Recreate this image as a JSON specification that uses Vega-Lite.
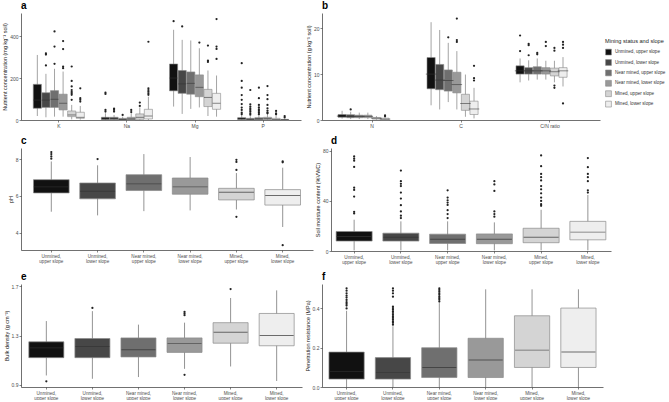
{
"$schema":"https://vega.github.io/schema/vega-lite/v6.json",
"background":"white",
"padding":{"left":2,"top":1,"right":0,"bottom":0},
"config":{"font":"Liberation Sans","view":{"stroke":null},
"axis":{"labelFontSize":5,"titleFontSize":5.5,"titleFontWeight":"normal","labelColor":"#4d4d4d","titleColor":"#222","domainColor":"#333","tickColor":"#333","tickSize":2,"labelPadding":1,"titlePadding":2,"grid":false,"domainWidth":0.7,"tickWidth":0.6,"labelLineHeight":5,"labelOverlap":false,"labelFlush":false},
"axisX":{"labelFontSize":4.6},
"title":{"fontSize":10,"fontWeight":"bold","anchor":"start","frame":"group","offset":2,"color":"#000"}},
"resolve":{"scale":{"fill":"independent"},"legend":{"fill":"independent"}},
"datasets":{
"abox":[
{"nutrient":"K","group":"Unmined, upper slope","lower":19,"q1":56,"median":95,"q3":170,"upper":310},
{"nutrient":"K","group":"Unmined, lower slope","lower":13,"q1":60,"median":95,"q3":130,"upper":220},
{"nutrient":"K","group":"Near mined, upper slope","lower":16,"q1":60,"median":99,"q3":140,"upper":244},
{"nutrient":"K","group":"Near mined, lower slope","lower":16,"q1":48,"median":80,"q3":123,"upper":231},
{"nutrient":"K","group":"Mined, upper slope","lower":3,"q1":16,"median":24,"q3":43,"upper":72},
{"nutrient":"K","group":"Mined, lower slope","lower":2,"q1":8,"median":13,"q3":37,"upper":67},
{"nutrient":"Na","group":"Unmined, upper slope","lower":0,"q1":2,"median":6,"q3":13,"upper":32},
{"nutrient":"Na","group":"Unmined, lower slope","lower":0,"q1":2,"median":6,"q3":13,"upper":24},
{"nutrient":"Na","group":"Near mined, upper slope","lower":0,"q1":0,"median":3,"q3":8,"upper":16},
{"nutrient":"Na","group":"Near mined, lower slope","lower":0,"q1":0,"median":5,"q3":13,"upper":32},
{"nutrient":"Na","group":"Mined, upper slope","lower":0,"q1":3,"median":13,"q3":29,"upper":60},
{"nutrient":"Na","group":"Mined, lower slope","lower":0,"q1":5,"median":19,"q3":51,"upper":111},
{"nutrient":"Mg","group":"Unmined, upper slope","lower":64,"q1":139,"median":200,"q3":267,"upper":430},
{"nutrient":"Mg","group":"Unmined, lower slope","lower":29,"q1":127,"median":172,"q3":236,"upper":382},
{"nutrient":"Mg","group":"Near mined, upper slope","lower":53,"q1":123,"median":175,"q3":229,"upper":379},
{"nutrient":"Mg","group":"Near mined, lower slope","lower":60,"q1":111,"median":156,"q3":215,"upper":342},
{"nutrient":"Mg","group":"Mined, upper slope","lower":19,"q1":64,"median":108,"q3":146,"upper":236},
{"nutrient":"Mg","group":"Mined, lower slope","lower":16,"q1":51,"median":80,"q3":127,"upper":212},
{"nutrient":"P","group":"Unmined, upper slope","lower":0,"q1":2,"median":6,"q3":11,"upper":24},
{"nutrient":"P","group":"Unmined, lower slope","lower":0,"q1":1,"median":3,"q3":8,"upper":18},
{"nutrient":"P","group":"Near mined, upper slope","lower":0,"q1":1,"median":5,"q3":11,"upper":24},
{"nutrient":"P","group":"Near mined, lower slope","lower":0,"q1":2,"median":6,"q3":13,"upper":28},
{"nutrient":"P","group":"Mined, upper slope","lower":0,"q1":1,"median":3,"q3":8,"upper":24},
{"nutrient":"P","group":"Mined, lower slope","lower":0,"q1":0.5,"median":2,"q3":3,"upper":6}
],
"aout":[
{"nutrient":"K","group":"Unmined, lower slope","value":318},{"nutrient":"K","group":"Unmined, lower slope","value":312},{"nutrient":"K","group":"Unmined, lower slope","value":260},
{"nutrient":"K","group":"Near mined, upper slope","value":422},{"nutrient":"K","group":"Near mined, upper slope","value":350},{"nutrient":"K","group":"Near mined, upper slope","value":268},
{"nutrient":"K","group":"Near mined, lower slope","value":376},{"nutrient":"K","group":"Near mined, lower slope","value":338},{"nutrient":"K","group":"Near mined, lower slope","value":255},{"nutrient":"K","group":"Near mined, lower slope","value":247},
{"nutrient":"K","group":"Mined, upper slope","value":255},{"nutrient":"K","group":"Mined, upper slope","value":186},{"nutrient":"K","group":"Mined, upper slope","value":160},{"nutrient":"K","group":"Mined, upper slope","value":143},{"nutrient":"K","group":"Mined, upper slope","value":134},{"nutrient":"K","group":"Mined, upper slope","value":127},{"nutrient":"K","group":"Mined, upper slope","value":120},{"nutrient":"K","group":"Mined, upper slope","value":96},
{"nutrient":"K","group":"Mined, lower slope","value":151},{"nutrient":"K","group":"Mined, lower slope","value":104},{"nutrient":"K","group":"Mined, lower slope","value":96},{"nutrient":"K","group":"Mined, lower slope","value":88},
{"nutrient":"Na","group":"Unmined, upper slope","value":131},{"nutrient":"Na","group":"Unmined, upper slope","value":124},{"nutrient":"Na","group":"Unmined, upper slope","value":48},{"nutrient":"Na","group":"Unmined, upper slope","value":40},
{"nutrient":"Na","group":"Unmined, lower slope","value":54},{"nutrient":"Na","group":"Unmined, lower slope","value":48},{"nutrient":"Na","group":"Unmined, lower slope","value":40},
{"nutrient":"Na","group":"Near mined, upper slope","value":24},
{"nutrient":"Na","group":"Near mined, lower slope","value":48},{"nutrient":"Na","group":"Near mined, lower slope","value":38},
{"nutrient":"Na","group":"Mined, upper slope","value":83},{"nutrient":"Na","group":"Mined, upper slope","value":67},
{"nutrient":"Na","group":"Mined, lower slope","value":373},{"nutrient":"Na","group":"Mined, lower slope","value":151},{"nutrient":"Na","group":"Mined, lower slope","value":143},{"nutrient":"Na","group":"Mined, lower slope","value":135},{"nutrient":"Na","group":"Mined, lower slope","value":127},{"nutrient":"Na","group":"Mined, lower slope","value":120},
{"nutrient":"Mg","group":"Unmined, upper slope","value":471},
{"nutrient":"Mg","group":"Unmined, lower slope","value":446},
{"nutrient":"Mg","group":"Near mined, lower slope","value":369},
{"nutrient":"Mg","group":"Mined, upper slope","value":355},{"nutrient":"Mg","group":"Mined, upper slope","value":283},{"nutrient":"Mg","group":"Mined, upper slope","value":277},
{"nutrient":"Mg","group":"Mined, lower slope","value":481},{"nutrient":"Mg","group":"Mined, lower slope","value":350},{"nutrient":"Mg","group":"Mined, lower slope","value":339},{"nutrient":"Mg","group":"Mined, lower slope","value":291},
{"nutrient":"P","group":"Unmined, upper slope","value":271},{"nutrient":"P","group":"Unmined, upper slope","value":186},{"nutrient":"P","group":"Unmined, upper slope","value":154},{"nutrient":"P","group":"Unmined, upper slope","value":119},{"nutrient":"P","group":"Unmined, upper slope","value":96},{"nutrient":"P","group":"Unmined, upper slope","value":76},{"nutrient":"P","group":"Unmined, upper slope","value":59},{"nutrient":"P","group":"Unmined, upper slope","value":48},{"nutrient":"P","group":"Unmined, upper slope","value":35},{"nutrient":"P","group":"Unmined, upper slope","value":28},
{"nutrient":"P","group":"Unmined, lower slope","value":143},{"nutrient":"P","group":"Unmined, lower slope","value":75},{"nutrient":"P","group":"Unmined, lower slope","value":64},{"nutrient":"P","group":"Unmined, lower slope","value":56},{"nutrient":"P","group":"Unmined, lower slope","value":48},{"nutrient":"P","group":"Unmined, lower slope","value":40},{"nutrient":"P","group":"Unmined, lower slope","value":32},{"nutrient":"P","group":"Unmined, lower slope","value":25},
{"nutrient":"P","group":"Near mined, upper slope","value":154},{"nutrient":"P","group":"Near mined, upper slope","value":104},{"nutrient":"P","group":"Near mined, upper slope","value":72},{"nutrient":"P","group":"Near mined, upper slope","value":60},{"nutrient":"P","group":"Near mined, upper slope","value":51},{"nutrient":"P","group":"Near mined, upper slope","value":43},{"nutrient":"P","group":"Near mined, upper slope","value":35},{"nutrient":"P","group":"Near mined, upper slope","value":28},
{"nutrient":"P","group":"Near mined, lower slope","value":162},{"nutrient":"P","group":"Near mined, lower slope","value":119},{"nutrient":"P","group":"Near mined, lower slope","value":99},{"nutrient":"P","group":"Near mined, lower slope","value":72},{"nutrient":"P","group":"Near mined, lower slope","value":56},{"nutrient":"P","group":"Near mined, lower slope","value":45},{"nutrient":"P","group":"Near mined, lower slope","value":36},{"nutrient":"P","group":"Near mined, lower slope","value":32},
{"nutrient":"P","group":"Mined, upper slope","value":43},{"nutrient":"P","group":"Mined, upper slope","value":32},{"nutrient":"P","group":"Mined, upper slope","value":28},
{"nutrient":"P","group":"Mined, lower slope","value":19},{"nutrient":"P","group":"Mined, lower slope","value":12}
],
"bbox":[
{"nutrient":"N","group":"Unmined, upper slope","lower":0.3,"q1":0.6,"median":0.85,"q3":1.2,"upper":2.0},
{"nutrient":"N","group":"Unmined, lower slope","lower":0.2,"q1":0.5,"median":0.8,"q3":1.15,"upper":1.8},
{"nutrient":"N","group":"Near mined, upper slope","lower":0.2,"q1":0.5,"median":0.8,"q3":1.05,"upper":1.6},
{"nutrient":"N","group":"Near mined, lower slope","lower":0.2,"q1":0.5,"median":0.8,"q3":1.05,"upper":1.6},
{"nutrient":"N","group":"Mined, upper slope","lower":0.05,"q1":0.2,"median":0.4,"q3":0.55,"upper":0.85},
{"nutrient":"N","group":"Mined, lower slope","lower":0,"q1":0.05,"median":0.2,"q3":0.4,"upper":0.55},
{"nutrient":"C","group":"Unmined, upper slope","lower":3.2,"q1":6.8,"median":10.0,"q3":13.6,"upper":21.3},
{"nutrient":"C","group":"Unmined, lower slope","lower":2.3,"q1":6.6,"median":8.7,"q3":12.1,"upper":19.6},
{"nutrient":"C","group":"Near mined, upper slope","lower":3.9,"q1":6.3,"median":8.6,"q3":10.9,"upper":16.8},
{"nutrient":"C","group":"Near mined, lower slope","lower":2.3,"q1":5.9,"median":7.7,"q3":10.4,"upper":15.0},
{"nutrient":"C","group":"Mined, upper slope","lower":0.7,"q1":2.1,"median":3.6,"q3":5.6,"upper":9.9},
{"nutrient":"C","group":"Mined, lower slope","lower":0.35,"q1":1.2,"median":2.4,"q3":4.1,"upper":7.0},
{"nutrient":"C/N ratio","group":"Unmined, upper slope","lower":8.2,"q1":10.0,"median":10.7,"q3":11.8,"upper":13.4},
{"nutrient":"C/N ratio","group":"Unmined, lower slope","lower":8.6,"q1":10.0,"median":10.7,"q3":11.4,"upper":13.0},
{"nutrient":"C/N ratio","group":"Near mined, upper slope","lower":8.8,"q1":10.0,"median":10.7,"q3":11.6,"upper":13.4},
{"nutrient":"C/N ratio","group":"Near mined, lower slope","lower":8.8,"q1":10.0,"median":10.7,"q3":11.4,"upper":12.9},
{"nutrient":"C/N ratio","group":"Mined, upper slope","lower":8.2,"q1":9.6,"median":10.5,"q3":11.3,"upper":12.9},
{"nutrient":"C/N ratio","group":"Mined, lower slope","lower":7.3,"q1":9.3,"median":10.7,"q3":11.4,"upper":13.7}
],
"bout":[
{"nutrient":"N","group":"Unmined, lower slope","value":2.3},
{"nutrient":"N","group":"Mined, lower slope","value":1.0},{"nutrient":"N","group":"Mined, lower slope","value":0.8},
{"nutrient":"C","group":"Near mined, upper slope","value":18.0},
{"nutrient":"C","group":"Near mined, lower slope","value":22.1},{"nutrient":"C","group":"Near mined, lower slope","value":17.4},{"nutrient":"C","group":"Near mined, lower slope","value":17.0},
{"nutrient":"C","group":"Mined, lower slope","value":11.8},{"nutrient":"C","group":"Mined, lower slope","value":9.1},{"nutrient":"C","group":"Mined, lower slope","value":8.6},
{"nutrient":"C/N ratio","group":"Unmined, upper slope","value":18.4},{"nutrient":"C/N ratio","group":"Unmined, upper slope","value":15.0},
{"nutrient":"C/N ratio","group":"Unmined, lower slope","value":16.6},{"nutrient":"C/N ratio","group":"Unmined, lower slope","value":16.3},{"nutrient":"C/N ratio","group":"Unmined, lower slope","value":14.1},
{"nutrient":"C/N ratio","group":"Near mined, upper slope","value":14.6},{"nutrient":"C/N ratio","group":"Near mined, upper slope","value":14.3},
{"nutrient":"C/N ratio","group":"Near mined, lower slope","value":17.0},{"nutrient":"C/N ratio","group":"Near mined, lower slope","value":16.1},
{"nutrient":"C/N ratio","group":"Mined, upper slope","value":15.7},{"nutrient":"C/N ratio","group":"Mined, upper slope","value":15.1},{"nutrient":"C/N ratio","group":"Mined, upper slope","value":7.5},{"nutrient":"C/N ratio","group":"Mined, upper slope","value":7.0},
{"nutrient":"C/N ratio","group":"Mined, lower slope","value":17.0},{"nutrient":"C/N ratio","group":"Mined, lower slope","value":16.4},{"nutrient":"C/N ratio","group":"Mined, lower slope","value":15.7},{"nutrient":"C/N ratio","group":"Mined, lower slope","value":3.6}
],
"sbox":[
{"var":"pH","group":"Unmined, upper slope","lower":5.14,"q1":6.16,"median":6.49,"q3":6.88,"upper":7.87},
{"var":"pH","group":"Unmined, lower slope","lower":4.94,"q1":5.84,"median":6.25,"q3":6.70,"upper":7.66},
{"var":"pH","group":"Near mined, upper slope","lower":5.17,"q1":6.29,"median":6.65,"q3":7.15,"upper":8.27},
{"var":"pH","group":"Near mined, lower slope","lower":5.21,"q1":6.09,"median":6.49,"q3":6.97,"upper":8.11},
{"var":"pH","group":"Mined, upper slope","lower":5.26,"q1":5.78,"median":6.20,"q3":6.41,"upper":7.24},
{"var":"pH","group":"Mined, lower slope","lower":4.31,"q1":5.50,"median":6.02,"q3":6.34,"upper":7.53},
{"var":"SMC","group":"Unmined, upper slope","lower":0.5,"q1":7.9,"median":11.5,"q3":15.5,"upper":24.9},
{"var":"SMC","group":"Unmined, lower slope","lower":0.5,"q1":7.9,"median":11.0,"q3":14.2,"upper":23.6},
{"var":"SMC","group":"Near mined, upper slope","lower":0.5,"q1":6.0,"median":9.4,"q3":13.4,"upper":23.6},
{"var":"SMC","group":"Near mined, lower slope","lower":0.5,"q1":5.8,"median":9.4,"q3":13.6,"upper":22.8},
{"var":"SMC","group":"Mined, upper slope","lower":0.5,"q1":6.6,"median":11.0,"q3":18.1,"upper":32.8},
{"var":"SMC","group":"Mined, lower slope","lower":0.5,"q1":8.9,"median":15.0,"q3":23.6,"upper":44.6},
{"var":"BD","group":"Unmined, upper slope","lower":0.975,"q1":1.12,"median":1.2,"q3":1.249,"upper":1.418},
{"var":"BD","group":"Unmined, lower slope","lower":0.948,"q1":1.12,"median":1.211,"q3":1.276,"upper":1.499},
{"var":"BD","group":"Near mined, upper slope","lower":0.962,"q1":1.126,"median":1.185,"q3":1.281,"upper":1.389},
{"var":"BD","group":"Near mined, lower slope","lower":1.029,"q1":1.163,"median":1.236,"q3":1.281,"upper":1.405},
{"var":"BD","group":"Mined, upper slope","lower":1.048,"q1":1.238,"median":1.327,"q3":1.405,"upper":1.606},
{"var":"BD","group":"Mined, lower slope","lower":0.93,"q1":1.217,"median":1.3,"q3":1.48,"upper":1.668},
{"var":"PR","group":"Unmined, upper slope","lower":0,"q1":0.04,"median":0.079,"q3":0.177,"upper":0.386},
{"var":"PR","group":"Unmined, lower slope","lower":0,"q1":0.04,"median":0.074,"q3":0.149,"upper":0.308},
{"var":"PR","group":"Near mined, upper slope","lower":0,"q1":0.048,"median":0.099,"q3":0.199,"upper":0.425},
{"var":"PR","group":"Near mined, lower slope","lower":0,"q1":0.048,"median":0.137,"q3":0.247,"upper":0.495},
{"var":"PR","group":"Mined, upper slope","lower":0,"q1":0.099,"median":0.187,"q3":0.361,"upper":0.495},
{"var":"PR","group":"Mined, lower slope","lower":0,"q1":0.099,"median":0.177,"q3":0.4,"upper":0.495}
],
"sout":[
{"var":"pH","group":"Unmined, upper slope","value":8.38},{"var":"pH","group":"Unmined, upper slope","value":8.27},{"var":"pH","group":"Unmined, upper slope","value":8.14},{"var":"pH","group":"Unmined, upper slope","value":8.02},
{"var":"pH","group":"Unmined, lower slope","value":8.0},
{"var":"pH","group":"Mined, upper slope","value":7.96},{"var":"pH","group":"Mined, upper slope","value":7.84},{"var":"pH","group":"Mined, upper slope","value":7.41},{"var":"pH","group":"Mined, upper slope","value":4.86},
{"var":"pH","group":"Mined, lower slope","value":7.87},{"var":"pH","group":"Mined, lower slope","value":7.82},{"var":"pH","group":"Mined, lower slope","value":3.32},
{"var":"SMC","group":"Unmined, upper slope","value":75.3},{"var":"SMC","group":"Unmined, upper slope","value":73.5},{"var":"SMC","group":"Unmined, upper slope","value":71.9},{"var":"SMC","group":"Unmined, upper slope","value":66.9},{"var":"SMC","group":"Unmined, upper slope","value":50.4},{"var":"SMC","group":"Unmined, upper slope","value":48.6},{"var":"SMC","group":"Unmined, upper slope","value":43.3},{"var":"SMC","group":"Unmined, upper slope","value":31.2},{"var":"SMC","group":"Unmined, upper slope","value":29.9},
{"var":"SMC","group":"Unmined, lower slope","value":64},{"var":"SMC","group":"Unmined, lower slope","value":55.6},{"var":"SMC","group":"Unmined, lower slope","value":53.5},{"var":"SMC","group":"Unmined, lower slope","value":51.7},{"var":"SMC","group":"Unmined, lower slope","value":46.5},{"var":"SMC","group":"Unmined, lower slope","value":41.7},{"var":"SMC","group":"Unmined, lower slope","value":36.5},{"var":"SMC","group":"Unmined, lower slope","value":31.5},{"var":"SMC","group":"Unmined, lower slope","value":28.1},{"var":"SMC","group":"Unmined, lower slope","value":26.2},
{"var":"SMC","group":"Near mined, upper slope","value":48.3},{"var":"SMC","group":"Near mined, upper slope","value":42.5},{"var":"SMC","group":"Near mined, upper slope","value":40.4},{"var":"SMC","group":"Near mined, upper slope","value":38.6},{"var":"SMC","group":"Near mined, upper slope","value":36.7},{"var":"SMC","group":"Near mined, upper slope","value":32.5},{"var":"SMC","group":"Near mined, upper slope","value":29.4},{"var":"SMC","group":"Near mined, upper slope","value":26.2},
{"var":"SMC","group":"Near mined, lower slope","value":55.6},{"var":"SMC","group":"Near mined, lower slope","value":53},{"var":"SMC","group":"Near mined, lower slope","value":47.8},{"var":"SMC","group":"Near mined, lower slope","value":31.5},{"var":"SMC","group":"Near mined, lower slope","value":29.4},{"var":"SMC","group":"Near mined, lower slope","value":27.3},
{"var":"SMC","group":"Mined, upper slope","value":76.1},{"var":"SMC","group":"Mined, upper slope","value":67.5},{"var":"SMC","group":"Mined, upper slope","value":61.4},{"var":"SMC","group":"Mined, upper slope","value":58.8},{"var":"SMC","group":"Mined, upper slope","value":56.2},{"var":"SMC","group":"Mined, upper slope","value":51.7},{"var":"SMC","group":"Mined, upper slope","value":49.1},{"var":"SMC","group":"Mined, upper slope","value":45.9},{"var":"SMC","group":"Mined, upper slope","value":42.5},{"var":"SMC","group":"Mined, upper slope","value":39.9},{"var":"SMC","group":"Mined, upper slope","value":37.3},{"var":"SMC","group":"Mined, upper slope","value":36},
{"var":"SMC","group":"Mined, lower slope","value":74},{"var":"SMC","group":"Mined, lower slope","value":66.7},{"var":"SMC","group":"Mined, lower slope","value":61.4},{"var":"SMC","group":"Mined, lower slope","value":58.8},{"var":"SMC","group":"Mined, lower slope","value":55.6},{"var":"SMC","group":"Mined, lower slope","value":48.3},{"var":"SMC","group":"Mined, lower slope","value":46.5},
{"var":"BD","group":"Unmined, upper slope","value":0.927},
{"var":"BD","group":"Unmined, lower slope","value":1.525},
{"var":"BD","group":"Near mined, lower slope","value":1.493},{"var":"BD","group":"Near mined, lower slope","value":1.48},{"var":"BD","group":"Near mined, lower slope","value":1.466},{"var":"BD","group":"Near mined, lower slope","value":0.98},
{"var":"BD","group":"Mined, upper slope","value":1.679},
{"var":"PR","group":"Unmined, upper slope","value":0.5},{"var":"PR","group":"Unmined, upper slope","value":0.488},{"var":"PR","group":"Unmined, upper slope","value":0.475},{"var":"PR","group":"Unmined, upper slope","value":0.463},{"var":"PR","group":"Unmined, upper slope","value":0.453},{"var":"PR","group":"Unmined, upper slope","value":0.441},{"var":"PR","group":"Unmined, upper slope","value":0.43},{"var":"PR","group":"Unmined, upper slope","value":0.421},{"var":"PR","group":"Unmined, upper slope","value":0.413},{"var":"PR","group":"Unmined, upper slope","value":0.398},
{"var":"PR","group":"Unmined, lower slope","value":0.5},{"var":"PR","group":"Unmined, lower slope","value":0.488},{"var":"PR","group":"Unmined, lower slope","value":0.475},{"var":"PR","group":"Unmined, lower slope","value":0.458},{"var":"PR","group":"Unmined, lower slope","value":0.408},{"var":"PR","group":"Unmined, lower slope","value":0.4},{"var":"PR","group":"Unmined, lower slope","value":0.392},{"var":"PR","group":"Unmined, lower slope","value":0.383},{"var":"PR","group":"Unmined, lower slope","value":0.375},{"var":"PR","group":"Unmined, lower slope","value":0.366},{"var":"PR","group":"Unmined, lower slope","value":0.358},{"var":"PR","group":"Unmined, lower slope","value":0.35},{"var":"PR","group":"Unmined, lower slope","value":0.341},{"var":"PR","group":"Unmined, lower slope","value":0.333},{"var":"PR","group":"Unmined, lower slope","value":0.325},{"var":"PR","group":"Unmined, lower slope","value":0.316},
{"var":"PR","group":"Near mined, upper slope","value":0.5},{"var":"PR","group":"Near mined, upper slope","value":0.492},{"var":"PR","group":"Near mined, upper slope","value":0.483},{"var":"PR","group":"Near mined, upper slope","value":0.475},{"var":"PR","group":"Near mined, upper slope","value":0.467},{"var":"PR","group":"Near mined, upper slope","value":0.458},{"var":"PR","group":"Near mined, upper slope","value":0.45},{"var":"PR","group":"Near mined, upper slope","value":0.442},{"var":"PR","group":"Near mined, upper slope","value":0.433}
]
},
"spacing":8,
"vconcat":[
{"resolve":{"scale":{"fill":"independent"},"legend":{"fill":"independent"}},
"hconcat":[
{"title":{"text":"a"},"width":280,"height":107,
"encoding":{"x":{"field":"nutrient","type":"nominal","sort":["K","Na","Mg","P"],"scale":{"paddingInner":0.25,"paddingOuter":0.18},"axis":{"title":null,"labelAngle":0,"labelFontSize":5,"labelOverlap":false}},
"xOffset":{"field":"group","type":"nominal","sort":["Unmined, upper slope","Unmined, lower slope","Near mined, upper slope","Near mined, lower slope","Mined, upper slope","Mined, lower slope"],"scale":{"paddingInner":0.05,"paddingOuter":0}}},
"layer":[
{"data":{"name":"abox"},"mark":{"type":"rule","color":"#666","strokeWidth":0.6},"encoding":{"y":{"field":"lower","type":"quantitative","title":"Nutrient concentration (mg kg⁻¹ soil)","scale":{"domain":[0,510],"nice":false,"zero":false},"axis":{"values":[0,100,200,300,400,500],"labelOverlap":false}},"y2":{"field":"upper"}}},
{"data":{"name":"abox"},"mark":{"type":"bar","stroke":"#8a8a8a","strokeWidth":0.6},"encoding":{"y":{"field":"q1","type":"quantitative","title":"Nutrient concentration (mg kg⁻¹ soil)","scale":{"domain":[0,510],"nice":false,"zero":false}},"y2":{"field":"q3"},"fill":{"field":"group","type":"nominal","scale":{"domain":["Unmined, upper slope","Unmined, lower slope","Near mined, upper slope","Near mined, lower slope","Mined, upper slope","Mined, lower slope"],"range":["#111111","#474747","#6f6f6f","#999999","#d4d4d4","#eeeeee"]},"legend":null}}},
{"data":{"name":"abox"},"mark":{"type":"tick","color":"#333","thickness":0.8,"size":8},"encoding":{"y":{"field":"median","type":"quantitative","title":"Nutrient concentration (mg kg⁻¹ soil)","scale":{"domain":[0,510],"nice":false,"zero":false}}}},
{"data":{"name":"aout"},"mark":{"type":"circle","size":5,"color":"#222","opacity":1},"encoding":{"y":{"field":"value","type":"quantitative","title":"Nutrient concentration (mg kg⁻¹ soil)","scale":{"domain":[0,510],"nice":false,"zero":false}}}}
]},
{"title":{"text":"b"},"width":278,"height":107,
"encoding":{"x":{"field":"nutrient","type":"nominal","sort":["N","C","C/N ratio"],"scale":{"paddingInner":0.236,"paddingOuter":0.18},"axis":{"title":null,"labelAngle":0,"labelFontSize":5,"labelOverlap":false}},
"xOffset":{"field":"group","type":"nominal","sort":["Unmined, upper slope","Unmined, lower slope","Near mined, upper slope","Near mined, lower slope","Mined, upper slope","Mined, lower slope"],"scale":{"paddingInner":0.05,"paddingOuter":0}}},
"layer":[
{"data":{"name":"bbox"},"mark":{"type":"rule","color":"#666","strokeWidth":0.6},"encoding":{"y":{"field":"lower","type":"quantitative","title":"Nutrient concentration (g kg⁻¹ soil)","scale":{"domain":[0,23.3],"nice":false,"zero":false},"axis":{"values":[0,5,10,15,20],"labelOverlap":false}},"y2":{"field":"upper"}}},
{"data":{"name":"bbox"},"mark":{"type":"bar","stroke":"#8a8a8a","strokeWidth":0.6},"encoding":{"y":{"field":"q1","type":"quantitative","title":"Nutrient concentration (g kg⁻¹ soil)","scale":{"domain":[0,23.3],"nice":false,"zero":false}},"y2":{"field":"q3"},"fill":{"field":"group","type":"nominal","scale":{"domain":["Unmined, upper slope","Unmined, lower slope","Near mined, upper slope","Near mined, lower slope","Mined, upper slope","Mined, lower slope"],"range":["#111111","#474747","#6f6f6f","#999999","#d4d4d4","#eeeeee"]},
"legend":{"orient":"none","legendX":283,"legendY":26,"title":"Mining status and slope","symbolType":"square","symbolSize":34,"symbolStrokeColor":"#8a8a8a","symbolStrokeWidth":0.6,"labelFontSize":4.6,"labelColor":"#333","titleFontSize":5.6,"titleFontWeight":"normal","titleColor":"#222","rowPadding":1.4,"labelOffset":3,"titlePadding":4}}}},
{"data":{"name":"bbox"},"mark":{"type":"tick","color":"#333","thickness":0.8,"size":10.5},"encoding":{"y":{"field":"median","type":"quantitative","title":"Nutrient concentration (g kg⁻¹ soil)","scale":{"domain":[0,23.3],"nice":false,"zero":false}}}},
{"data":{"name":"bout"},"mark":{"type":"circle","size":5,"color":"#222","opacity":1},"encoding":{"y":{"field":"value","type":"quantitative","title":"Nutrient concentration (g kg⁻¹ soil)","scale":{"domain":[0,23.3],"nice":false,"zero":false}}}}
]}
],"spacing":5},
{"hconcat":[
{"title":{"text":"c"},"width":292,"height":102,
"encoding":{"x":{"field":"group","type":"nominal","sort":["Unmined, upper slope","Unmined, lower slope","Near mined, upper slope","Near mined, lower slope","Mined, upper slope","Mined, lower slope"],"scale":{"paddingInner":0.23,"paddingOuter":0.27},"axis":{"title":null,"labelAngle":0,"labelOverlap":false,"labelExpr":"[split(datum.label, ', ')[0] + ',', split(datum.label, ', ')[1]]"}}},
"layer":[
{"data":{"name":"sbox"},"transform":[{"filter":"datum.var == 'pH'"}],"mark":{"type":"rule","color":"#666","strokeWidth":0.7},"encoding":{"y":{"field":"lower","type":"quantitative","title":"pH","scale":{"domain":[3.06,8.6],"nice":false,"zero":false},"axis":{"values":[4,5,6,7,8],"labelOverlap":false}},"y2":{"field":"upper"}}},
{"data":{"name":"sbox"},"transform":[{"filter":"datum.var == 'pH'"}],"mark":{"type":"bar","stroke":"#8a8a8a","strokeWidth":0.7},"encoding":{"y":{"field":"q1","type":"quantitative","title":"pH","scale":{"domain":[3.06,8.6],"nice":false,"zero":false}},"y2":{"field":"q3"},"fill":{"field":"group","type":"nominal","scale":{"domain":["Unmined, upper slope","Unmined, lower slope","Near mined, upper slope","Near mined, lower slope","Mined, upper slope","Mined, lower slope"],"range":["#111111","#474747","#6f6f6f","#999999","#d4d4d4","#eeeeee"]},"legend":null}}},
{"data":{"name":"sbox"},"transform":[{"filter":"datum.var == 'pH'"}],"mark":{"type":"tick","color":"#333","thickness":0.9,"size":35},"encoding":{"y":{"field":"median","type":"quantitative","title":"pH","scale":{"domain":[3.06,8.6],"nice":false,"zero":false}}}},
{"data":{"name":"sout"},"transform":[{"filter":"datum.var == 'pH'"}],"mark":{"type":"circle","size":5,"color":"#222","opacity":1},"encoding":{"y":{"field":"value","type":"quantitative","title":"pH","scale":{"domain":[3.06,8.6],"nice":false,"zero":false}}}}
]},
{"title":{"text":"d"},"width":280,"height":103,
"encoding":{"x":{"field":"group","type":"nominal","sort":["Unmined, upper slope","Unmined, lower slope","Near mined, upper slope","Near mined, lower slope","Mined, upper slope","Mined, lower slope"],"scale":{"paddingInner":0.23,"paddingOuter":0.11},"axis":{"title":null,"labelAngle":0,"labelOverlap":false,"labelExpr":"[split(datum.label, ', ')[0] + ',', split(datum.label, ', ')[1]]"}}},
"layer":[
{"data":{"name":"sbox"},"transform":[{"filter":"datum.var == 'SMC'"}],"mark":{"type":"rule","color":"#666","strokeWidth":0.7},"encoding":{"y":{"field":"lower","type":"quantitative","title":"Soil moisture content (%VWC)","scale":{"domain":[0,82],"nice":false,"zero":false},"axis":{"values":[0,20,40,60,80],"labelOverlap":false}},"y2":{"field":"upper"}}},
{"data":{"name":"sbox"},"transform":[{"filter":"datum.var == 'SMC'"}],"mark":{"type":"bar","stroke":"#8a8a8a","strokeWidth":0.7},"encoding":{"y":{"field":"q1","type":"quantitative","title":"Soil moisture content (%VWC)","scale":{"domain":[0,82],"nice":false,"zero":false}},"y2":{"field":"q3"},"fill":{"field":"group","type":"nominal","scale":{"domain":["Unmined, upper slope","Unmined, lower slope","Near mined, upper slope","Near mined, lower slope","Mined, upper slope","Mined, lower slope"],"range":["#111111","#474747","#6f6f6f","#999999","#d4d4d4","#eeeeee"]},"legend":null}}},
{"data":{"name":"sbox"},"transform":[{"filter":"datum.var == 'SMC'"}],"mark":{"type":"tick","color":"#333","thickness":0.9,"size":35},"encoding":{"y":{"field":"median","type":"quantitative","title":"Soil moisture content (%VWC)","scale":{"domain":[0,82],"nice":false,"zero":false}}}},
{"data":{"name":"sout"},"transform":[{"filter":"datum.var == 'SMC'"}],"mark":{"type":"circle","size":5,"color":"#222","opacity":1},"encoding":{"y":{"field":"value","type":"quantitative","title":"Soil moisture content (%VWC)","scale":{"domain":[0,82],"nice":false,"zero":false}}}}
]}
],"spacing":2},
{"hconcat":[
{"title":{"text":"e"},"width":281,"height":103,
"encoding":{"x":{"field":"group","type":"nominal","sort":["Unmined, upper slope","Unmined, lower slope","Near mined, upper slope","Near mined, lower slope","Mined, upper slope","Mined, lower slope"],"scale":{"paddingInner":0.24,"paddingOuter":0.17},"axis":{"title":null,"labelAngle":0,"labelOverlap":false,"labelExpr":"[split(datum.label, ', ')[0] + ',', split(datum.label, ', ')[1]]"}}},
"layer":[
{"data":{"name":"sbox"},"transform":[{"filter":"datum.var == 'BD'"}],"mark":{"type":"rule","color":"#666","strokeWidth":0.7},"encoding":{"y":{"field":"lower","type":"quantitative","title":"Bulk density (g cm⁻³)","scale":{"domain":[0.881,1.72],"nice":false,"zero":false},"axis":{"values":[0.9,1.1,1.3,1.5,1.7],"format":".1f","labelOverlap":false}},"y2":{"field":"upper"}}},
{"data":{"name":"sbox"},"transform":[{"filter":"datum.var == 'BD'"}],"mark":{"type":"bar","stroke":"#8a8a8a","strokeWidth":0.7},"encoding":{"y":{"field":"q1","type":"quantitative","title":"Bulk density (g cm⁻³)","scale":{"domain":[0.881,1.72],"nice":false,"zero":false}},"y2":{"field":"q3"},"fill":{"field":"group","type":"nominal","scale":{"domain":["Unmined, upper slope","Unmined, lower slope","Near mined, upper slope","Near mined, lower slope","Mined, upper slope","Mined, lower slope"],"range":["#111111","#474747","#6f6f6f","#999999","#d4d4d4","#eeeeee"]},"legend":null}}},
{"data":{"name":"sbox"},"transform":[{"filter":"datum.var == 'BD'"}],"mark":{"type":"tick","color":"#333","thickness":0.9,"size":34},"encoding":{"y":{"field":"median","type":"quantitative","title":"Bulk density (g cm⁻³)","scale":{"domain":[0.881,1.72],"nice":false,"zero":false}}}},
{"data":{"name":"sout"},"transform":[{"filter":"datum.var == 'BD'"}],"mark":{"type":"circle","size":5,"color":"#222","opacity":1},"encoding":{"y":{"field":"value","type":"quantitative","title":"Bulk density (g cm⁻³)","scale":{"domain":[0.881,1.72],"nice":false,"zero":false}}}}
]},
{"title":{"text":"f"},"width":281,"height":103,
"encoding":{"x":{"field":"group","type":"nominal","sort":["Unmined, upper slope","Unmined, lower slope","Near mined, upper slope","Near mined, lower slope","Mined, upper slope","Mined, lower slope"],"scale":{"paddingInner":0.24,"paddingOuter":0.15},"axis":{"title":null,"labelAngle":0,"labelOverlap":false,"labelExpr":"[split(datum.label, ', ')[0] + ',', split(datum.label, ', ')[1]]"}}},
"layer":[
{"data":{"name":"sbox"},"transform":[{"filter":"datum.var == 'PR'"}],"mark":{"type":"rule","color":"#666","strokeWidth":0.7},"encoding":{"y":{"field":"lower","type":"quantitative","title":"Penetration resistance (MPa)","scale":{"domain":[0,0.522],"nice":false,"zero":false},"axis":{"values":[0,0.1,0.2,0.3,0.4,0.5],"format":".1f","labelOverlap":false}},"y2":{"field":"upper"}}},
{"data":{"name":"sbox"},"transform":[{"filter":"datum.var == 'PR'"}],"mark":{"type":"bar","stroke":"#8a8a8a","strokeWidth":0.7},"encoding":{"y":{"field":"q1","type":"quantitative","title":"Penetration resistance (MPa)","scale":{"domain":[0,0.522],"nice":false,"zero":false}},"y2":{"field":"q3"},"fill":{"field":"group","type":"nominal","scale":{"domain":["Unmined, upper slope","Unmined, lower slope","Near mined, upper slope","Near mined, lower slope","Mined, upper slope","Mined, lower slope"],"range":["#111111","#474747","#6f6f6f","#999999","#d4d4d4","#eeeeee"]},"legend":null}}},
{"data":{"name":"sbox"},"transform":[{"filter":"datum.var == 'PR'"}],"mark":{"type":"tick","color":"#333","thickness":0.9,"size":34},"encoding":{"y":{"field":"median","type":"quantitative","title":"Penetration resistance (MPa)","scale":{"domain":[0,0.522],"nice":false,"zero":false}}}},
{"data":{"name":"sout"},"transform":[{"filter":"datum.var == 'PR'"}],"mark":{"type":"circle","size":5,"color":"#222","opacity":1},"encoding":{"y":{"field":"value","type":"quantitative","title":"Penetration resistance (MPa)","scale":{"domain":[0,0.522],"nice":false,"zero":false}}}}
]}
],"spacing":3}
]
}
